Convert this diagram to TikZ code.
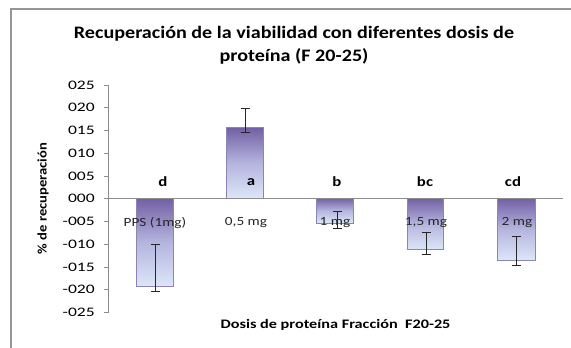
\documentclass[tikz,border=0pt]{standalone}
\usepackage{fontspec}
\setmainfont{Carlito}
\usetikzlibrary{calc}
\definecolor{framegray}{RGB}{150,150,150}
\definecolor{axisgray}{RGB}{140,140,140}
\definecolor{bartop}{RGB}{115,95,163}
\definecolor{barmid}{RGB}{180,180,222}
\definecolor{barbot}{RGB}{220,230,247}
\definecolor{baredge}{RGB}{140,132,180}
\tikzset{
  bar/.style={top color=bartop, bottom color=barbot, middle color=barmid, draw=baredge, line width=0.6pt},
  errbar/.style={draw=black!85, line width=0.8pt},
  ticklab/.style={anchor=east, inner sep=0pt, xscale=1.35, font=\fontsize{13}{13}\selectfont},
  catlab/.style={inner sep=0pt, xscale=1.22, font=\fontsize{12.5}{12.5}\selectfont, text=black!85},
  siglab/.style={inner sep=0pt, xscale=1.2, font=\bfseries\fontsize{14}{14}\selectfont},
  axtitle/.style={inner sep=0pt, font=\bfseries\fontsize{13}{13}\selectfont},
}
\begin{document}
\begin{tikzpicture}[x=1pt,y=-1pt]
\useasboundingbox (0,0) rectangle (571,348);
% frame
\draw[framegray, line width=1.2pt] (11,348) -- (11,9) -- (571,9);
% title
\node[inner sep=0pt, align=center, xscale=1.15, font=\bfseries\fontsize{17.5}{23}\selectfont] (title) at (294,45)
  {Recuperación de la viabilidad con diferentes dosis de\\proteína (F 20-25)};
% bars
\draw[bar] (136,198) rectangle (173,286);
\draw[bar] (226,127.5) rectangle (263,198);
\draw[bar] (316,198) rectangle (353,223);
\draw[bar] (407,198) rectangle (443,249.5);
\draw[bar] (497,198) rectangle (535,260);
% y axis
\draw[axisgray, line width=0.8pt] (108,85) -- (108,312.5);
\foreach \v [count=\i from 0] in {025,020,015,010,005,000,-005,-010,-015,-020,-025}{
  \pgfmathsetmacro{\yy}{85+\i*22.75}
  \draw[axisgray, line width=0.8pt] (104,\yy) -- (108,\yy);
  \node[ticklab] (t\i) at (95,\yy) {\v};
}
% zero line
\draw[axisgray, line width=0.8pt] (108,198) -- (563,198);
% error bars
\foreach \x/\a/\b [count=\k] in {155/244/291.7, 245/108/132.7, 337/211.5/228.3, 426/232.7/254.5, 516.5/236.5/265}{
  \coordinate (e\k t) at (\x,\a);
  \coordinate (e\k b) at (\x,\b);
  \draw[errbar] (e\k t) -- (e\k b);
  \draw[errbar] ($(e\k t)+(-4.5,0)$) -- ($(e\k t)+(4.5,0)$);
  \draw[errbar] ($(e\k b)+(-4.5,0)$) -- ($(e\k b)+(4.5,0)$);
}
% significance letters
\node[siglab] (sd) at (163,182) {d};
\node[siglab] (sa) at (251,182) {a};
\node[siglab] (sb) at (337,182) {b};
\node[siglab] (sbc) at (425,182) {bc};
\node[siglab] (scd) at (513,182) {cd};
% category labels
\node[catlab] (c1) at (155,223) {PPS (1mg)};
\node[catlab] (c2) at (246,223) {0,5 mg};
\node[catlab] (c3) at (335,223) {1 mg};
\node[catlab] (c4) at (426,223) {1,5 mg};
\node[catlab] (c5) at (517,223) {2 mg};
% axis titles
\node[axtitle, xscale=1.25] (xt) at (335.5,325) {Dosis de proteína Fracción\ \ F20-25};
\node[axtitle, rotate=90] (yt) at (43,198.5) {\scalebox{1.12}[1]{\% de recuperación}};
\end{tikzpicture}
\end{document}
